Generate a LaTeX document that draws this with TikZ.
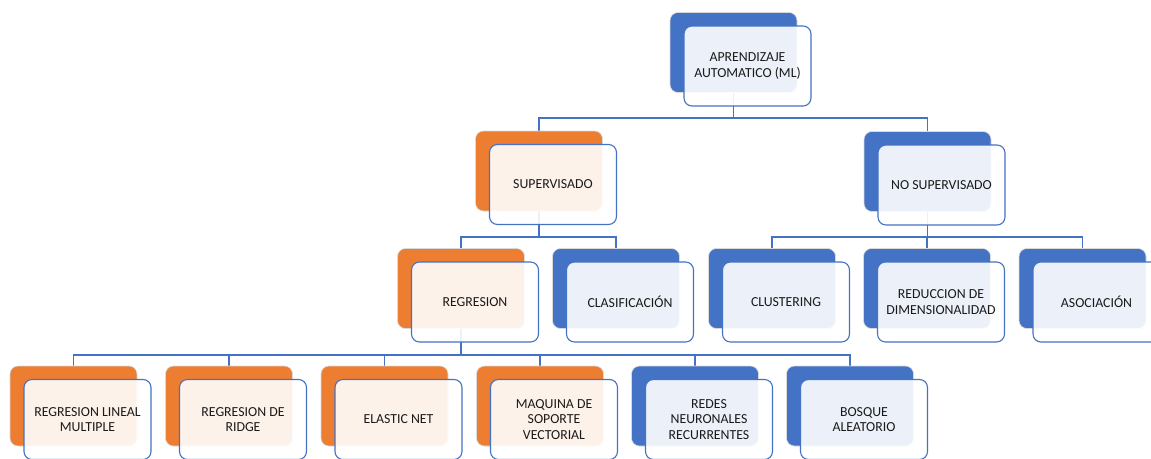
\documentclass[tikz,border=0pt]{standalone}
\usepackage{fontspec}
\setmainfont{Carlito}
\usetikzlibrary{calc}
\pgfdeclarelayer{bg}
\pgfsetlayers{bg,main}
\definecolor{mlblue}{HTML}{4472C4}
\definecolor{mlorange}{HTML}{ED7D31}
\definecolor{mltext}{HTML}{1A1A1A}
\tikzset{
  backbox/.style={rectangle, rounded corners=8pt, minimum width=127pt, minimum height=80pt, inner sep=0pt, draw=black!15, line width=0.6pt},
  frontbox/.style={rectangle, rounded corners=8pt, minimum width=127pt, minimum height=80pt, inner sep=0pt, draw=mlblue, line width=1.1pt, fill=white, fill opacity=0.9, text opacity=1, draw opacity=1, text=mltext, align=center, font=\fontsize{13.8}{15.5}\selectfont},
  conn/.style={draw=mlblue, line width=1.1pt}
}
\newcommand\blk[5]{%
  \node[backbox, fill=#4] (#1) at (#2,#3) {};
  \node[frontbox] (#1f) at ($(#1)+(14,13.5)$) {#5};
}
\begin{document}
\begin{tikzpicture}[x=1pt,y=-1pt]
\useasboundingbox (0,0) rectangle (1151,458);
\clip (0,0) rectangle (1151,458);
\blk{ml}{733.5}{52.5}{mlblue}{APRENDIZAJE\\AUTOMATICO (ML)}
\blk{sup}{539}{171}{mlorange}{SUPERVISADO}
\blk{nosup}{927.5}{171.5}{mlblue}{NO SUPERVISADO}
\blk{reg}{461}{288.5}{mlorange}{REGRESION}
\blk{cla}{616}{288.5}{mlblue}{CLASIFICACIÓN}
\blk{clu}{772}{288.5}{mlblue}{CLUSTERING}
\blk{red}{927}{288.5}{mlblue}{REDUCCION DE\\DIMENSIONALIDAD}
\blk{aso}{1082.5}{288.5}{mlblue}{ASOCIACIÓN}
\blk{rlm}{73.5}{406}{mlorange}{REGRESION LINEAL\\MULTIPLE}
\blk{rid}{229}{406}{mlorange}{REGRESION DE\\RIDGE}
\blk{ela}{384.5}{406}{mlorange}{ELASTIC NET}
\blk{maq}{540}{406}{mlorange}{MAQUINA DE\\SOPORTE\\VECTORIAL}
\blk{rnr}{695}{406}{mlblue}{REDES\\NEURONALES\\RECURRENTES}
\blk{bos}{850}{406}{mlblue}{BOSQUE\\ALEATORIO}
\begin{pgfonlayer}{bg}
  \foreach \c in {sup,nosup}
    \draw[conn] (ml.south) -- (ml.south |- 0,118) -| (\c.north);
  \foreach \c in {reg,cla}
    \draw[conn] (sup.south) -- (sup.south |- 0,237) -| (\c.north);
  \foreach \c in {clu,red,aso}
    \draw[conn] (nosup.south) -- (nosup.south |- 0,237) -| (\c.north);
  \foreach \c in {rlm,rid,ela,maq,rnr,bos}
    \draw[conn] (reg.south) -- (reg.south |- 0,355) -| (\c.north);
\end{pgfonlayer}
\end{tikzpicture}
\end{document}
